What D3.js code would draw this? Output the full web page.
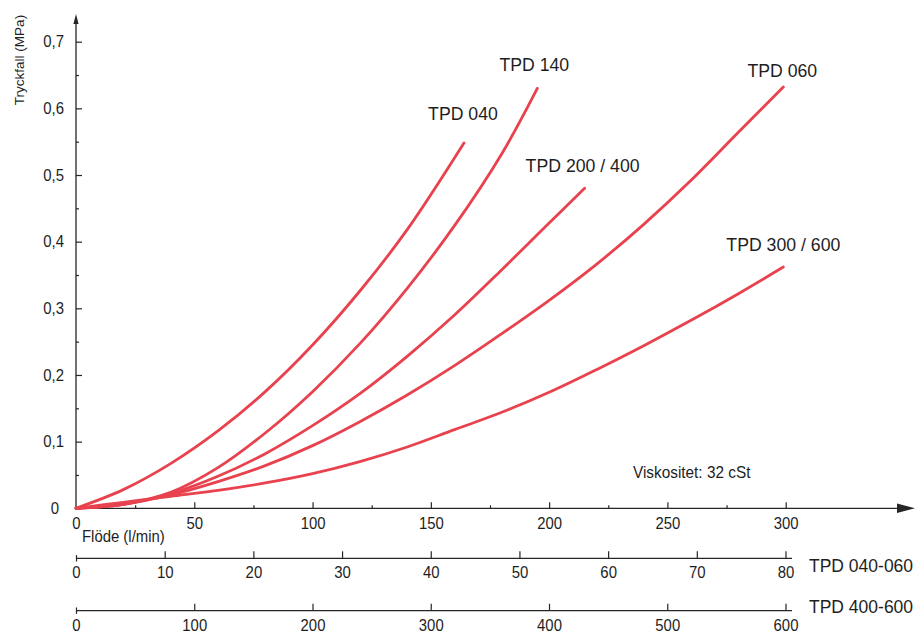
<!DOCTYPE html>
<html>
<head>
<meta charset="utf-8">
<script src="https://cdn.jsdelivr.net/npm/d3@7"></script>
<style>
html, body { margin: 0; padding: 0; background: #ffffff; }
svg { display: block; font-family: "Liberation Sans", Arial, Helvetica, sans-serif; }
</style>
</head>
<body>
<svg id="chart" width="921" height="635"></svg>
<script>
// ---------------- data ----------------
const flowTicks = [0, 50, 100, 150, 200, 250, 300];
const flowMinorTicks = [25, 75, 125, 175, 225, 275];
const pressureTicks = [0, 0.1, 0.2, 0.3, 0.4, 0.5, 0.6, 0.7];
const pressureMinorTicks = [0.05, 0.15, 0.25, 0.35, 0.45, 0.55, 0.65];
const flowTicks040060 = [0, 10, 20, 30, 40, 50, 60, 70, 80];
const flowTicks400600 = [0, 100, 200, 300, 400, 500, 600];

const seriesNames = ["TPD 040", "TPD 140", "TPD 200 / 400", "TPD 060", "TPD 300 / 600"];

const flow040 = [0, 20, 40, 60, 80, 100, 120, 140, 164];
const drop040 = [0, 0.028, 0.067, 0.116, 0.175, 0.245, 0.326, 0.418, 0.548];

const flow140 = [0, 20, 40, 60, 80, 100, 120, 140, 160, 180, 195];
const drop140 = [0, 0.006, 0.024, 0.061, 0.113, 0.175, 0.247, 0.33, 0.424, 0.532, 0.63];

const flow200 = [0, 20, 40, 60, 80, 100, 120, 140, 160, 180, 200, 215];
const drop200 = [0, 0.006, 0.022, 0.048, 0.082, 0.124, 0.172, 0.228, 0.29, 0.358, 0.428, 0.48];

const flow060 = [0, 20, 40, 60, 80, 100, 120, 140, 160, 180, 200, 220, 240, 260, 280, 299];
const drop060 = [0, 0.006, 0.02, 0.04, 0.064, 0.094, 0.13, 0.17, 0.214, 0.262, 0.312, 0.366, 0.426, 0.492, 0.564, 0.632];

const flow300 = [0, 20, 40, 60, 80, 100, 120, 140, 160, 180, 200, 220, 240, 260, 280, 299];
const drop300 = [0, 0.009, 0.018, 0.027, 0.038, 0.052, 0.07, 0.092, 0.118, 0.144, 0.174, 0.208, 0.244, 0.282, 0.322, 0.362];

const seriesFlows = [flow040, flow140, flow200, flow060, flow300];
const seriesDrops = [drop040, drop140, drop200, drop060, drop300];

// ---------------- styles ----------------
const RED = "#e8424f";
const INK = "#262626";
const TEXT = "#1e1e1e";
const FONT = '"Liberation Sans", Arial, Helvetica, sans-serif';
const labelOffsets = [[-1, -23], [-3, -17], [-2, -16], [-1, -10], [0, -16]];

const svg = d3.select("#chart");

const x = d3.scaleLinear().domain([0, 300]).range([76, 785.7]);
const y = d3.scaleLinear().domain([0, 0.7]).range([508.3, 41.7]);
const x1 = d3.scaleLinear().domain([0, 80]).range([76, 785.5]);
const x2 = d3.scaleLinear().domain([0, 600]).range([76, 785.5]);

const fmtP = d => d === 0 ? "0" : d3.format(".1f")(d).replace(".", ",");

function styleAxis(g) {
  g.attr("font-family", FONT).attr("font-size", 16);
  g.selectAll(".domain").remove();
  g.selectAll(".tick line").attr("stroke", INK).attr("stroke-width", 1.2);
  g.selectAll(".tick text").attr("fill", TEXT);
}

// ---- Y axis ----
const gy = svg.append("g").attr("transform", `translate(${x(0)},0)`)
  .call(d3.axisLeft(y).tickValues(pressureTicks).tickFormat(fmtP)
    .tickSizeInner(-6).tickSizeOuter(0).tickPadding(12));
styleAxis(gy);
gy.selectAll(".tick").filter(d => d === 0).select("text").attr("x", -17);

const gyMinor = svg.append("g").attr("transform", `translate(${x(0)},0)`)
  .call(d3.axisLeft(y).tickValues(pressureMinorTicks).tickFormat("")
    .tickSizeInner(-3).tickSizeOuter(0));
styleAxis(gyMinor);

// ---- X axis ----
const gx = svg.append("g").attr("transform", `translate(0,${y(0)})`)
  .call(d3.axisBottom(x).tickValues(flowTicks).tickFormat(d3.format("d"))
    .tickSizeInner(-6).tickSizeOuter(0).tickPadding(9.5));
styleAxis(gx);
gx.selectAll(".tick").filter(d => d === 0).select("line").remove();

const gxMinor = svg.append("g").attr("transform", `translate(0,${y(0)})`)
  .call(d3.axisBottom(x).tickValues(flowMinorTicks).tickFormat("")
    .tickSizeInner(-3).tickSizeOuter(0));
styleAxis(gxMinor);

// axis lines + arrows
svg.append("line").attr("x1", x(0)).attr("x2", 900).attr("y1", y(0)).attr("y2", y(0))
  .attr("stroke", INK).attr("stroke-width", 1.3);
svg.append("path").attr("d", `M897,${y(0) - 4.8}L915,${y(0)}L897,${y(0) + 4.8}Z`).attr("fill", INK);
svg.append("line").attr("x1", x(0)).attr("x2", x(0)).attr("y1", y(0)).attr("y2", 20)
  .attr("stroke", INK).attr("stroke-width", 1.3);
svg.append("path").attr("d", `M${x(0) - 2.6},24L${x(0)},14L${x(0) + 2.6},24Z`).attr("fill", INK);

// ---- secondary flow axes ----
function secondaryAxis(scale, ticks, yPos, pad) {
  const g = svg.append("g").attr("transform", `translate(0,${yPos})`)
    .call(d3.axisBottom(scale).tickValues(ticks).tickFormat(d3.format("d"))
      .tickSizeInner(-7).tickSizeOuter(0).tickPadding(pad));
  styleAxis(g);
  g.selectAll(".tick").filter(d => d === 0).select("line").attr("y1", 3.2).attr("y2", -3.2);
  svg.append("line").attr("x1", scale(0)).attr("x2", scale.range()[1] + 6.5)
    .attr("y1", yPos).attr("y2", yPos).attr("stroke", INK).attr("stroke-width", 1.2);
  return g;
}
secondaryAxis(x1, flowTicks040060, 558.3, 8);
secondaryAxis(x2, flowTicks400600, 610.7, 9);

// ---- curves ----
const line = d3.line().x(d => x(d[0])).y(d => y(d[1])).curve(d3.curveCatmullRom.alpha(0.5));
seriesNames.forEach((name, i) => {
  const pts = seriesFlows[i].map((f, j) => [f, seriesDrops[i][j]]);
  svg.append("path").datum(pts).attr("d", line)
    .attr("fill", "none").attr("stroke", RED).attr("stroke-width", 2.8)
    .attr("stroke-linecap", "round").attr("stroke-linejoin", "round");
  const last = pts[pts.length - 1];
  svg.append("text").attr("class", "cond")
    .attr("x", x(last[0]) + labelOffsets[i][0])
    .attr("y", y(last[1]) + labelOffsets[i][1])
    .attr("text-anchor", "middle").attr("font-size", 19).attr("fill", TEXT)
    .text(name);
});

// ---- texts ----
svg.append("text").attr("transform", "translate(24,60) rotate(-90)")
  .attr("text-anchor", "middle").attr("font-size", 13.5).attr("fill", TEXT)
  .text("Tryckfall (MPa)");
svg.append("text").attr("class", "cond").attr("x", 82).attr("y", 542).attr("font-size", 16).attr("fill", TEXT)
  .text("Flöde (l/min)");
svg.append("text").attr("class", "cond").attr("x", 633).attr("y", 477.5).attr("font-size", 16.5).attr("fill", TEXT)
  .text("Viskositet: 32 cSt");
svg.append("text").attr("x", 809).attr("y", 571.5).attr("font-size", 17.5).attr("fill", TEXT)
  .text("TPD 040-060");
svg.append("text").attr("x", 809).attr("y", 612.5).attr("font-size", 17.5).attr("fill", TEXT)
  .text("TPD 400-600");

// slightly condensed lettering like the printed original
svg.selectAll(".tick text, text.cond").each(function () {
  const w = this.getComputedTextLength();
  if (w > 0) d3.select(this).attr("textLength", (w * 0.93).toFixed(1)).attr("lengthAdjust", "spacingAndGlyphs");
});
</script>
</body>
</html>
